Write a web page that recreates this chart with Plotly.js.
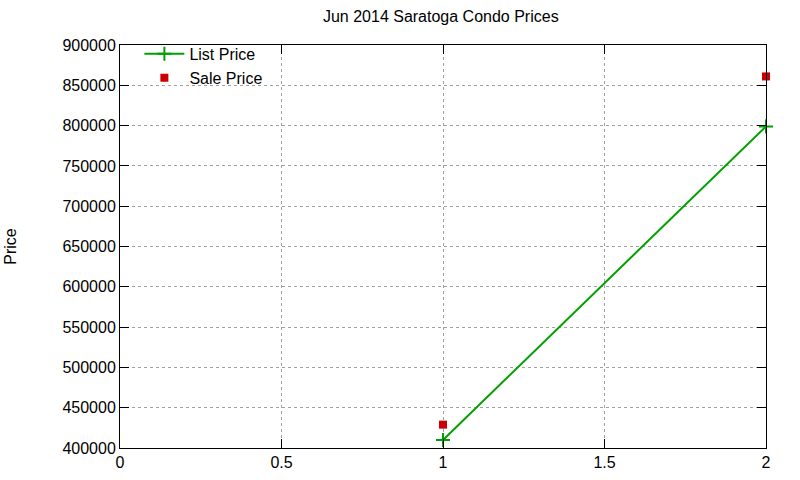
<!DOCTYPE html>
<html><head><meta charset="utf-8">
<script src="https://cdn.plot.ly/plotly-3.0.1.min.js"></script>
<style>html,body{margin:0;padding:0;background:#fff}#c{width:800px;height:480px}</style>
</head><body><div id="c"></div>
<script>
const listX = [1, 2];
const listPrice = [410000, 799000];
const saleX = [1, 2];
const salePrice = [429000, 861000];
const xTicks = [0, 0.5, 1, 1.5, 2];
const xTickText = ['0', '0.5', '1', '1.5', '2'];

const fam = 'Liberation Sans, Arial, sans-serif';
const font = {family: fam, size: 16, color: '#000'};
const data = [
  {x: listX, y: listPrice, name: 'List Price', type: 'scatter', mode: 'lines+markers', cliponaxis: false,
   line: {color: '#00a000', width: 2},
   marker: {symbol: 'cross-thin', size: 10, color: '#00a000', line: {color: '#00a000', width: 2}}},
  {x: saleX, y: salePrice, name: 'Sale Price', type: 'scatter', mode: 'markers', cliponaxis: false,
   marker: {symbol: 'square', size: 8, color: '#cc0000'}}
];
const axisCommon = {
  showline: true, linecolor: '#000', linewidth: 1, mirror: 'allticks',
  ticks: 'inside', ticklen: 9, tickcolor: '#000', tickwidth: 1,
  showgrid: true, gridcolor: '#a0a0a0', griddash: 'dot', gridwidth: 1,
  zeroline: false, tickfont: font
};
const layout = {
  width: 800, height: 480,
  margin: {l: 120, r: 34, t: 45, b: 32},
  paper_bgcolor: '#fff', plot_bgcolor: '#fff',
  font: font,
  title: {text: 'Jun 2014 Saratoga Condo Prices', font: {family: fam, size: 16, color: '#000'},
    x: 0.551, xanchor: 'center', y: 0.978, yanchor: 'top'},
  xaxis: Object.assign({}, axisCommon, {range: [0, 2], tickvals: xTicks, ticktext: xTickText}),
  yaxis: Object.assign({}, axisCommon, {range: [400000, 900000], dtick: 50000, tickformat: 'd',
    title: {text: 'Price', font: font, standoff: 41}}),
  legend: {x: 0.03, y: 1.02, xanchor: 'left', yanchor: 'top', bgcolor: 'rgba(0,0,0,0)',
    font: font, tracegroupgap: 0, itemwidth: 40},
  showlegend: true
};
Plotly.newPlot('c', data, layout, {staticPlot: true});
</script></body></html>
